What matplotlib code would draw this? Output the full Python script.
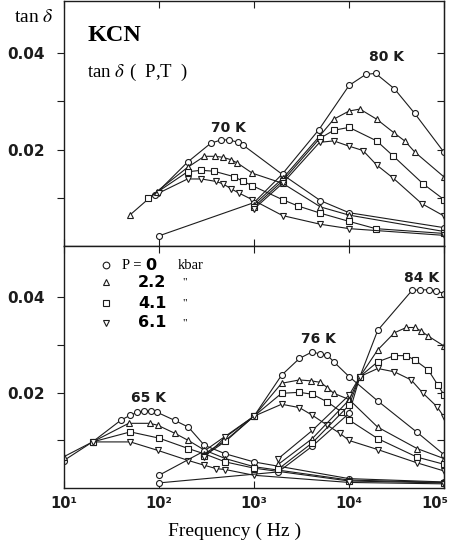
import matplotlib
matplotlib.use("Agg")
import matplotlib.pyplot as plt
from matplotlib.transforms import ScaledTranslation

plt.rcParams['mathtext.fontset'] = 'stix'

# ---- upper panel, 70 K ----
f70_circ = [90, 200, 350, 450, 550, 680, 770, 2000, 5000, 10000, 100000]
v70_circ = [0.0106, 0.0174, 0.0213, 0.0220, 0.0220, 0.0215, 0.0209, 0.0148, 0.0094, 0.0069, 0.0038]
f70_tri = [50, 95, 200, 300, 390, 470, 570, 670, 960, 2000, 5000, 10000, 100000]
v70_tri = [0.0065, 0.0113, 0.0163, 0.0186, 0.0186, 0.0184, 0.0179, 0.0172, 0.0151, 0.0130, 0.0081, 0.0064, 0.0030]
f70_sq = [77, 200, 280, 380, 610, 770, 960, 2000, 2900, 5000, 10000, 19000, 100000]
v70_sq = [0.0099, 0.0154, 0.0157, 0.0155, 0.0144, 0.0134, 0.0125, 0.0096, 0.0083, 0.0068, 0.0051, 0.0036, 0.0026]
f70_dtri = [100, 200, 280, 395, 470, 570, 690, 960, 2000, 5000, 10000, 100000]
v70_dtri = [0.0110, 0.0139, 0.0139, 0.0134, 0.0129, 0.0119, 0.0110, 0.0096, 0.0063, 0.0045, 0.0036, 0.0022]

# ---- upper panel, 80 K ----
f80_circ = [100, 1000, 2000, 4800, 10000, 15000, 19000, 30000, 49000, 100000]
v80_circ = [0.0021, 0.0090, 0.0150, 0.0241, 0.0333, 0.0356, 0.0358, 0.0326, 0.0275, 0.0194]
f80_tri = [1000, 2000, 4900, 6900, 10000, 13000, 19500, 30000, 39000, 49000, 100000]
v80_tri = [0.0086, 0.0140, 0.0228, 0.0263, 0.0280, 0.0284, 0.0263, 0.0234, 0.0217, 0.0195, 0.0143]
f80_sq = [1000, 2000, 4900, 6900, 10000, 19500, 29000, 60000, 100000]
v80_sq = [0.0081, 0.0135, 0.0223, 0.0240, 0.0246, 0.0218, 0.0187, 0.0129, 0.0096]
f80_dtri = [1000, 2000, 4900, 6900, 10000, 14000, 19500, 29000, 58000, 100000]
v80_dtri = [0.0077, 0.0130, 0.0215, 0.0218, 0.0207, 0.0198, 0.0168, 0.0141, 0.0088, 0.0062]

# ---- lower panel, 65 K ----
f65_circ = [10, 20, 40, 50, 59, 70, 82, 96, 147, 204, 300, 500, 1000, 10000, 100000]
v65_circ = [0.0058, 0.0097, 0.0143, 0.0153, 0.0159, 0.0162, 0.0162, 0.0159, 0.0142, 0.0128, 0.0090, 0.0072, 0.0055, 0.0020, 0.0013]
f65_tri = [10, 20, 48, 80, 97, 147, 204, 300, 500, 1000, 10000, 100000]
v65_tri = [0.0066, 0.0097, 0.0136, 0.0136, 0.0132, 0.0115, 0.0100, 0.0080, 0.0062, 0.0045, 0.0017, 0.0012]
f65_sq = [20, 50, 100, 204, 300, 500, 1000, 10000, 100000]
v65_sq = [0.0097, 0.0118, 0.0105, 0.0083, 0.0072, 0.0055, 0.0042, 0.0015, 0.0011]
f65_dtri = [20, 50, 98, 204, 300, 400, 500, 1000, 10000, 100000]
v65_dtri = [0.0097, 0.0097, 0.0079, 0.0058, 0.0048, 0.0041, 0.0039, 0.0027, 0.0012, 0.0009]

# ---- lower panel, 76 K ----
f76_circ = [100, 300, 1000, 1950, 3000, 4100, 5000, 5900, 6900, 10000, 20000, 52000, 100000]
v76_circ = [0.0027, 0.0078, 0.0151, 0.0237, 0.0272, 0.0286, 0.0281, 0.0279, 0.0265, 0.0234, 0.0183, 0.0117, 0.0070]
f76_tri = [300, 500, 1000, 1950, 3000, 4000, 5000, 5900, 6900, 10000, 20000, 52000, 100000]
v76_tri = [0.0072, 0.0100, 0.0151, 0.0220, 0.0227, 0.0225, 0.0222, 0.0211, 0.0199, 0.0186, 0.0128, 0.0083, 0.0062]
f76_sq = [300, 500, 1000, 1950, 3000, 4100, 5900, 8300, 10000, 20000, 52000, 100000]
v76_sq = [0.0068, 0.0098, 0.0151, 0.0199, 0.0201, 0.0197, 0.0181, 0.0160, 0.0143, 0.0104, 0.0065, 0.0050]
f76_dtri = [300, 500, 1000, 1950, 3000, 4100, 5900, 8000, 10000, 20000, 52000, 100000]
v76_dtri = [0.0065, 0.0107, 0.0151, 0.0176, 0.0169, 0.0153, 0.0132, 0.0115, 0.0100, 0.0081, 0.0053, 0.0036]

# ---- lower panel, 84 K ----
f84_circ = [100, 1800, 4100, 10000, 13000, 20000, 46000, 56000, 69000, 83000, 100000]
v84_circ = [0.0011, 0.0034, 0.0088, 0.0157, 0.0234, 0.0331, 0.0415, 0.0416, 0.0416, 0.0414, 0.0408]
f84_tri = [1800, 4100, 10000, 13000, 20000, 30000, 40000, 49000, 57000, 68000, 100000]
v84_tri = [0.0050, 0.0104, 0.0185, 0.0234, 0.0290, 0.0326, 0.0337, 0.0337, 0.0330, 0.0319, 0.0298]
f84_sq = [1800, 4100, 10000, 13000, 20000, 30000, 40000, 49000, 68000, 86000, 100000]
v84_sq = [0.0040, 0.0095, 0.0174, 0.0234, 0.0265, 0.0278, 0.0278, 0.0269, 0.0248, 0.0216, 0.0195]
f84_dtri = [1800, 4100, 10000, 13000, 20000, 30000, 45000, 60000, 84000, 100000]
v84_dtri = [0.0062, 0.0121, 0.0195, 0.0234, 0.0251, 0.0244, 0.0227, 0.0199, 0.0171, 0.0149]

pressures = ['0', '2.2', '4.1', '6.1']
markers = ['o', '^', 's', 'v']
xtick_vals = [10, 100, 1000, 10000, 100000]
xtick_labels = ['10¹', '10²', '10³', '10⁴', '10⁵']

ink = '#1c1c1c'

top_curves = [(f70_circ, v70_circ, 'o'), (f70_tri, v70_tri, '^'),
              (f70_sq, v70_sq, 's'), (f70_dtri, v70_dtri, 'v'),
              (f80_circ, v80_circ, 'o'), (f80_tri, v80_tri, '^'),
              (f80_sq, v80_sq, 's'), (f80_dtri, v80_dtri, 'v')]
bot_curves = [(f65_circ, v65_circ, 'o'), (f65_tri, v65_tri, '^'),
              (f65_sq, v65_sq, 's'), (f65_dtri, v65_dtri, 'v'),
              (f76_circ, v76_circ, 'o'), (f76_tri, v76_tri, '^'),
              (f76_sq, v76_sq, 's'), (f76_dtri, v76_dtri, 'v'),
              (f84_circ, v84_circ, 'o'), (f84_tri, v84_tri, '^'),
              (f84_sq, v84_sq, 's'), (f84_dtri, v84_dtri, 'v')]

fig = plt.figure(figsize=(4.5, 5.43), dpi=100)
ax_top = fig.add_axes([0.142, 0.547, 0.845, 0.451])
ax_bot = fig.add_axes([0.142, 0.101, 0.845, 0.446])

for ax, curves in ((ax_top, top_curves), (ax_bot, bot_curves)):
    for f, v, m in curves:
        ax.plot(f, v, color=ink, lw=0.8, marker=m, ms=4.3, mfc='white',
                mec=ink, mew=0.8)
    ax.set_xscale('log')
    ax.set_xlim(10, 100000)
    ax.set_ylim(0, 0.0508)
    ax.set_xticks(xtick_vals)
    ax.xaxis.set_minor_locator(matplotlib.ticker.NullLocator())
    ax.set_yticks([0.02, 0.04])
    ax.set_yticks([0.01, 0.03], minor=True)
    ax.set_yticklabels(['0.02', '0.04'], fontweight='semibold', fontsize=11,
                       family='DejaVu Sans')
    ax.tick_params(axis='x', which='both', direction='in', top=True,
                   length=5, width=0.8, colors=ink)
    ax.tick_params(axis='y', which='both', direction='out', left=True,
                   right=False, length=5, width=0.8, colors=ink, pad=9)
    for s in ax.spines.values():
        s.set_linewidth(1.0)
        s.set_color(ink)
    sec = ax.secondary_yaxis('right')
    sec.set_yticks([0.02, 0.04])
    sec.set_yticks([0.01, 0.03], minor=True)
    sec.tick_params(axis='y', which='both', direction='in', length=5,
                    width=0.8, labelright=False, colors=ink)

ax_top.set_xticklabels([])
ax_bot.set_xticklabels(xtick_labels, fontweight='semibold', fontsize=10.5,
                       family='DejaVu Sans')
ax_bot.tick_params(axis='x', pad=6)
# the last decade label sits at the figure edge, nudge it inwards
last = ax_bot.get_xticklabels()[-1]
last.set_transform(last.get_transform() +
                   ScaledTranslation(-9 / 100, 0, fig.dpi_scale_trans))

# temperature labels
lab = dict(ha='center', va='center', fontweight='bold', fontsize=10,
           family='DejaVu Sans', color=ink)
ax_top.text(532, 0.0244, '70 K', **lab)
ax_top.text(24500, 0.0391, '80 K', **lab)
ax_bot.text(77, 0.0189, '65 K', **lab)
ax_bot.text(4720, 0.0313, '76 K', **lab)
ax_bot.text(58200, 0.0441, '84 K', **lab)

# titles
serif = 'Liberation Serif'
fig.text(0.075, 0.968, r'tan $\delta$', ha='center', va='center',
         fontsize=14, family=serif)
fig.text(0.195, 0.934, 'KCN', ha='left', va='center', fontsize=17.5,
         family=serif, fontweight='bold')
fig.text(0.194, 0.867, r'tan $\delta\;\,$(  P,T  )', ha='left', va='center',
         fontsize=13.5, family=serif)
fig.text(0.522, 0.022, 'Frequency ( Hz )', ha='center', va='center',
         fontsize=14, family=serif)

# pressure key
rows = [0.921, 0.851, 0.764, 0.682]
for i, (p, m) in enumerate(zip(pressures, markers)):
    y = rows[i]
    ax_bot.plot([0.112], [y], marker=m, ms=4.8, mfc='white', mec=ink,
                mew=0.8, transform=ax_bot.transAxes, clip_on=False)
    if i == 0:
        ax_bot.text(0.153, y, 'P =', transform=ax_bot.transAxes, ha='left',
                    va='center', fontsize=10.5, family=serif)
        ax_bot.text(0.213, y, p, transform=ax_bot.transAxes, ha='left',
                    va='center', fontsize=11.5, fontweight='bold',
                    family='DejaVu Sans')
        ax_bot.text(0.300, y, 'kbar', transform=ax_bot.transAxes, ha='left',
                    va='center', fontsize=10.5, family=serif)
    else:
        ax_bot.text(0.232, y, p, transform=ax_bot.transAxes, ha='center',
                    va='center', fontsize=11.5, fontweight='bold',
                    family='DejaVu Sans')
        ax_bot.text(0.318, y, '"', transform=ax_bot.transAxes, ha='center',
                    va='center', fontsize=8, family=serif)

fig.savefig('out.png', dpi=100, facecolor='white')
